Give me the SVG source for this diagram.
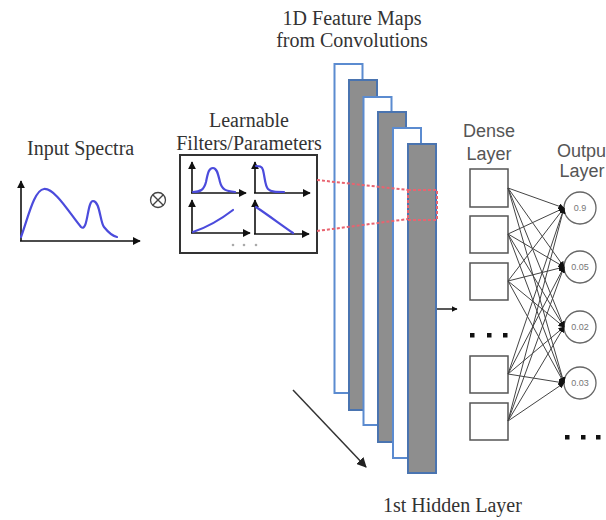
<svg xmlns="http://www.w3.org/2000/svg" width="606" height="520" viewBox="0 0 606 520">
  <defs>
    <style>
      .serif { font-family: "Liberation Serif", "Times New Roman", serif; font-size: 20px; fill: #333; }
      .sans { font-family: "Liberation Sans", Arial, sans-serif; font-size: 18px; fill: #555; }
      .val { font-family: "Liberation Sans", Arial, sans-serif; font-size: 9px; fill: #777; text-anchor: middle; }
      .axis { stroke: #111; stroke-width: 1.6; fill: none; }
      .curve { stroke: #4b4bdc; stroke-width: 2.2; fill: none; stroke-linecap: round; stroke-linejoin: round; }
      .fmw { fill: #ffffff; stroke: #5b8bd0; stroke-width: 2; }
      .fmg { fill: #8e8e8e; stroke: #4a74b0; stroke-width: 2; }
      .dense { fill: #ffffff; stroke: #555; stroke-width: 1.5; }
      .out { fill: #ffffff; stroke: #666; stroke-width: 1.3; }
      .link { stroke: #444; stroke-width: 1; fill: none; }
      .red { stroke: #e8636f; stroke-width: 2; fill: none; stroke-dasharray: 3 2; }
    </style>
    <marker id="ax" viewBox="0 0 10 10" refX="9" refY="5" markerWidth="5" markerHeight="5" orient="auto">
      <path d="M0,0 L10,5 L0,10 z" fill="#111"/>
    </marker>
    <marker id="head" viewBox="0 0 10 10" refX="9" refY="5" markerWidth="6" markerHeight="6" orient="auto" markerUnits="userSpaceOnUse">
      <path d="M0,0 L10,5 L0,10 z" fill="#111"/>
    </marker>
    <marker id="big" viewBox="0 0 10 10" refX="9" refY="5" markerWidth="10" markerHeight="10" orient="auto" markerUnits="userSpaceOnUse">
      <path d="M0,0 L10,5 L0,10 z" fill="#222"/>
    </marker>
  </defs>

  <!-- input spectrum -->
  <g id="input-spectra">
    <text class="serif" x="27" y="155">Input Spectra</text>
    <line class="axis" x1="21" y1="241" x2="21" y2="181" marker-end="url(#ax)"/>
    <line class="axis" x1="20" y1="241" x2="140" y2="241" marker-end="url(#ax)"/>
    <path class="curve" d="M21,237 C28,218 34,190 44,189 C55,188 70,214 81,227 C88,233 87,201 93,201 C100,201 100,222 104,227 C108,232 112,236 117,237"/>
  </g>

  <!-- convolution operator -->
  <g id="convolve">
    <circle cx="158" cy="200" r="7.5" fill="none" stroke="#444" stroke-width="1.3"/>
    <line x1="152.7" y1="194.7" x2="163.3" y2="205.3" stroke="#444" stroke-width="1.3"/>
    <line x1="163.3" y1="194.7" x2="152.7" y2="205.3" stroke="#444" stroke-width="1.3"/>
  </g>

  <!-- learnable filters -->
  <g id="filters">
    <text class="serif" x="249" y="127" text-anchor="middle">Learnable</text>
    <text class="serif" x="249" y="150" text-anchor="middle">Filters/Parameters</text>
    <rect x="180" y="155" width="137" height="98" fill="#fff" stroke="#333" stroke-width="2"/>
    <!-- top-left -->
    <line class="axis" x1="192" y1="193" x2="192" y2="162" marker-end="url(#ax)"/>
    <line class="axis" x1="191" y1="193" x2="246" y2="193" marker-end="url(#ax)"/>
    <path class="curve" d="M193,192 C200,192 204,190 206,182 C208,172 209,168 213,168 C217,168 218,174 220,182 C222,190 226,191 235,192"/>
    <!-- top-right -->
    <line class="axis" x1="255" y1="193" x2="255" y2="162" marker-end="url(#ax)"/>
    <line class="axis" x1="254" y1="193" x2="310" y2="193" marker-end="url(#ax)"/>
    <path class="curve" d="M256,166 C259,166 262,166 263,170 C265,178 265,186 268,189 C271,192 276,192 284,192"/>
    <!-- bottom-left -->
    <line class="axis" x1="192" y1="233" x2="192" y2="200" marker-end="url(#ax)"/>
    <line class="axis" x1="191" y1="233" x2="250" y2="233" marker-end="url(#ax)"/>
    <path class="curve" d="M193,232 C205,228 220,220 233,210"/>
    <!-- bottom-right -->
    <line class="axis" x1="255" y1="234" x2="255" y2="200" marker-end="url(#ax)"/>
    <line class="axis" x1="254" y1="234" x2="309" y2="234" marker-end="url(#ax)"/>
    <path class="curve" d="M256,207 C268,215 280,224 293,233"/>
    <g fill="#aaa">
      <circle cx="233" cy="245" r="1.3"/>
      <circle cx="244" cy="245" r="1.3"/>
      <circle cx="256" cy="245" r="1.3"/>
    </g>
  </g>

  <!-- 1D feature maps -->
  <g id="feature-maps">
    <text class="serif" x="352" y="25" text-anchor="middle">1D Feature Maps</text>
    <text class="serif" x="352" y="47" text-anchor="middle">from Convolutions</text>
    <rect class="fmw" x="334.5" y="64" width="28" height="329"/>
    <rect class="fmg" x="349" y="80" width="28" height="330"/>
    <rect class="fmw" x="363.5" y="97" width="28" height="328"/>
    <rect class="fmg" x="378" y="112" width="28" height="330"/>
    <rect class="fmw" x="393" y="128" width="28" height="330"/>
    <rect class="fmg" x="408" y="144" width="28" height="329"/>
    <rect class="red" x="408" y="190" width="29" height="30" stroke-width="2.5"/>
  </g>

  <g id="hidden-label">
    <text class="serif" x="383" y="512">1st Hidden Layer</text>
  </g>

  <!-- dense layer -->
  <g id="dense-layer">
    <text class="sans" x="489" y="137" text-anchor="middle">Dense</text>
    <text class="sans" x="489" y="160" text-anchor="middle">Layer</text>
    <rect class="dense" x="470" y="169" width="38" height="38"/>
    <rect class="dense" x="470" y="216" width="38" height="37"/>
    <rect class="dense" x="470" y="263" width="38" height="37"/>
    <rect class="dense" x="470" y="356" width="38" height="37"/>
    <rect class="dense" x="470" y="403" width="38" height="37"/>
    <g fill="#111">
      <rect x="470" y="333" width="4.5" height="4.5"/>
      <rect x="487" y="333" width="4.5" height="4.5"/>
      <rect x="503" y="333" width="4.5" height="4.5"/>
    </g>
  </g>

  <!-- output layer -->
  <g id="output-layer">
    <text class="sans" x="584" y="157" text-anchor="middle">Output</text>
    <text class="sans" x="582" y="177" text-anchor="middle">Layer</text>
    <circle class="out" cx="580" cy="208" r="16"/>
    <text class="val" x="580" y="211">0.9</text>
    <circle class="out" cx="580" cy="267" r="16"/>
    <text class="val" x="580" y="270">0.05</text>
    <circle class="out" cx="580" cy="327" r="16"/>
    <text class="val" x="580" y="330">0.02</text>
    <circle class="out" cx="580" cy="383" r="16"/>
    <text class="val" x="580" y="386">0.03</text>
    <g fill="#111">
      <rect x="565" y="435" width="4.5" height="4.5"/>
      <rect x="581" y="435" width="4.5" height="4.5"/>
      <rect x="596" y="435" width="4.5" height="4.5"/>
    </g>
  </g>

  <!-- connectors -->
  <g id="connectors">
    <line class="red" x1="317" y1="180" x2="408" y2="190"/>
    <line class="red" x1="317" y1="231" x2="408" y2="219"/>
    <line x1="437" y1="309" x2="457" y2="309" stroke="#222" stroke-width="1.5" marker-end="url(#head)"/>
    <line x1="293" y1="390" x2="366" y2="467" stroke="#333" stroke-width="1.5" marker-end="url(#big)"/>
    <g class="link" marker-end="url(#head)">
      <line x1="508" y1="188" x2="564" y2="208"/>
      <line x1="508" y1="188" x2="564" y2="267"/>
      <line x1="508" y1="188" x2="564" y2="327"/>
      <line x1="508" y1="188" x2="564" y2="383"/>
      <line x1="508" y1="234" x2="564" y2="208"/>
      <line x1="508" y1="234" x2="564" y2="267"/>
      <line x1="508" y1="234" x2="564" y2="327"/>
      <line x1="508" y1="234" x2="564" y2="383"/>
      <line x1="508" y1="281" x2="564" y2="208"/>
      <line x1="508" y1="281" x2="564" y2="267"/>
      <line x1="508" y1="281" x2="564" y2="327"/>
      <line x1="508" y1="281" x2="564" y2="383"/>
      <line x1="508" y1="374" x2="564" y2="208"/>
      <line x1="508" y1="374" x2="564" y2="267"/>
      <line x1="508" y1="374" x2="564" y2="327"/>
      <line x1="508" y1="374" x2="564" y2="383"/>
      <line x1="508" y1="421" x2="564" y2="208"/>
      <line x1="508" y1="421" x2="564" y2="267"/>
      <line x1="508" y1="421" x2="564" y2="327"/>
      <line x1="508" y1="421" x2="564" y2="383"/>
    </g>
  </g>
</svg>
